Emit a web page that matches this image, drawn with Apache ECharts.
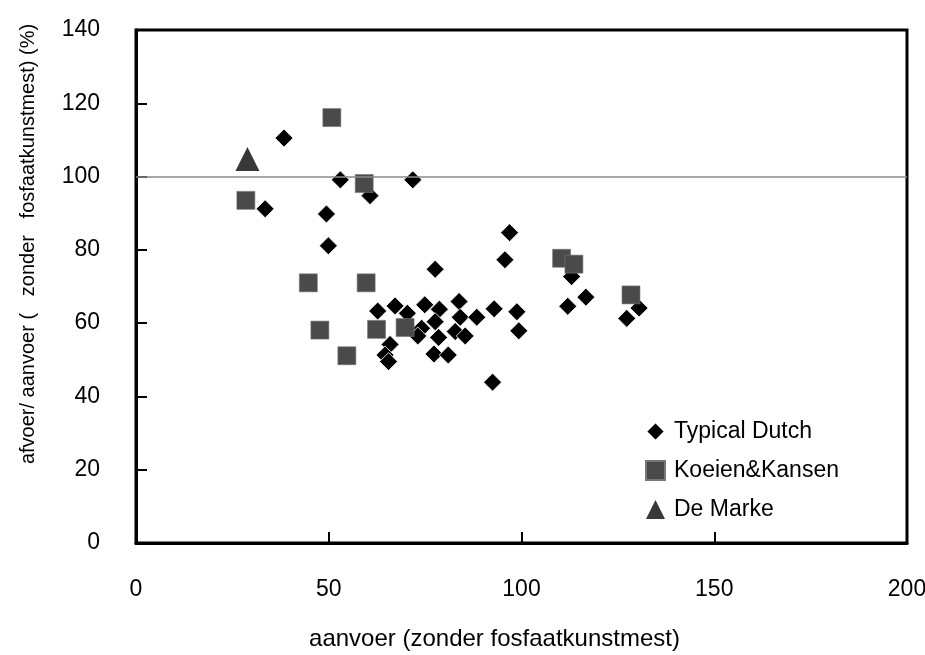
<!DOCTYPE html>
<html>
<head>
<meta charset="utf-8">
<script src="https://cdn.jsdelivr.net/npm/echarts@6/dist/echarts.min.js"></script>
<style>
html,body{margin:0;padding:0;background:#fff;}
#c{width:925px;height:655px;}
</style>
</head>
<body>
<div id="c"></div>
<script>
var seriesNames = ['Typical Dutch', 'Koeien&Kansen', 'De Marke'];
var typicalDutch = [
  [33.5, 91.2], [38.4, 110.5], [53.0, 99.1], [60.7, 94.8], [71.8, 99.1],
  [49.4, 89.8], [49.9, 81.1], [96.9, 84.7], [95.7, 77.3], [77.6, 74.7],
  [62.7, 63.3], [67.2, 64.7], [70.4, 62.7], [74.9, 65.0], [78.7, 63.8],
  [83.8, 65.9], [84.1, 61.6], [88.4, 61.6], [92.9, 63.9], [98.8, 63.1],
  [99.3, 57.9], [77.6, 60.4], [74.1, 58.6], [73.1, 56.5], [78.5, 56.1],
  [82.8, 57.7], [85.4, 56.5], [65.9, 54.2], [64.6, 51.3], [65.5, 49.5],
  [77.3, 51.6], [81.0, 51.3], [92.5, 43.9], [113.0, 72.7], [116.7, 67.1],
  [112.0, 64.6], [130.5, 64.1], [127.3, 61.3]
];
var koeienKansen = [
  [28.5, 93.5], [50.8, 116.1], [59.2, 98.1], [44.7, 71.0], [59.7, 71.0],
  [47.7, 58.1], [54.7, 51.1], [62.4, 58.3], [69.8, 58.8], [110.4, 77.7],
  [113.6, 76.1], [128.4, 67.7]
];
var deMarke = [[28.9, 104.8]];
var referenceLevel = 100;
var xTicks = [0, 50, 100, 150, 200];
var yTicks = [0, 20, 40, 60, 80, 100, 120, 140];

var FONT = "'Liberation Sans', Arial, sans-serif";

var chart = echarts.init(document.getElementById('c'), null, {renderer: 'canvas'});
chart.setOption({
  animation: false,
  backgroundColor: '#ffffff',
  grid: {
    left: 136, right: 18, top: 30, bottom: 112,
    outerBoundsMode: 'none', containLabel: false,
    show: true, borderColor: '#000', borderWidth: 3, backgroundColor: 'transparent'
  },
  legend: {
    orient: 'vertical',
    left: 645, top: 420, padding: 0,
    itemWidth: 19, itemHeight: 19,
    itemGap: 16,
    textStyle: {fontFamily: FONT, fontSize: 23, color: '#000', lineHeight: 23, padding: [0, 0, 0, 4]},
    data: [
      {name: seriesNames[0], icon: 'diamond'},
      {name: seriesNames[1], icon: 'rect'},
      {name: seriesNames[2], icon: 'triangle'}
    ]
  },
  xAxis: {
    type: 'value',
    min: xTicks[0], max: xTicks[xTicks.length - 1], interval: 50,
    name: 'aanvoer (zonder fosfaatkunstmest)',
    nameLocation: 'middle', nameGap: 84,
    nameTextStyle: {fontFamily: FONT, fontSize: 24, color: '#000', lineHeight: 24, padding: [0, 54, 0, 0]},
    axisLine: {show: true, lineStyle: {color: '#000', width: 3}},
    axisTick: {show: true, inside: true, length: 11, lineStyle: {color: '#000', width: 2}},
    axisLabel: {fontFamily: FONT, fontSize: 23, color: '#000', margin: 35, lineHeight: 23},
    splitLine: {show: false}
  },
  yAxis: {
    type: 'value',
    min: yTicks[0], max: yTicks[yTicks.length - 1], interval: 20,
    name: 'afvoer/ aanvoer (   zonder   fosfaatkunstmest) (%)',
    nameLocation: 'middle', nameGap: 98,
    nameTextStyle: {fontFamily: FONT, fontSize: 20, color: '#000', lineHeight: 20, padding: [0, 0, 0, 85]},
    axisLine: {show: true, lineStyle: {color: '#000', width: 3}},
    axisTick: {show: true, inside: true, length: 11, lineStyle: {color: '#000', width: 2}},
    axisLabel: {fontFamily: FONT, fontSize: 23, color: '#000', margin: 36},
    splitLine: {show: false}
  },
  series: [
    {
      name: seriesNames[0], type: 'scatter', symbol: 'diamond', symbolSize: 18,
      itemStyle: {color: '#000', borderColor: '#fff', borderWidth: 0.8, opacity: 1},
      data: typicalDutch,
      markLine: {
        silent: true, symbol: 'none', label: {show: false},
        lineStyle: {color: '#8a8a8a', width: 1.5, type: 'solid'},
        data: [{yAxis: referenceLevel}]
      },
      z: 2
    },
    {
      name: seriesNames[1], type: 'scatter', symbol: 'rect', symbolSize: 18,
      itemStyle: {color: '#4a4a4a', borderColor: '#777', borderWidth: 0.6, opacity: 1},
      data: koeienKansen, z: 3
    },
    {
      name: seriesNames[2], type: 'scatter', symbol: 'triangle', symbolSize: 24,
      itemStyle: {color: '#383838', opacity: 1},
      data: deMarke, z: 4
    }
  ]
});
</script>
</body>
</html>
